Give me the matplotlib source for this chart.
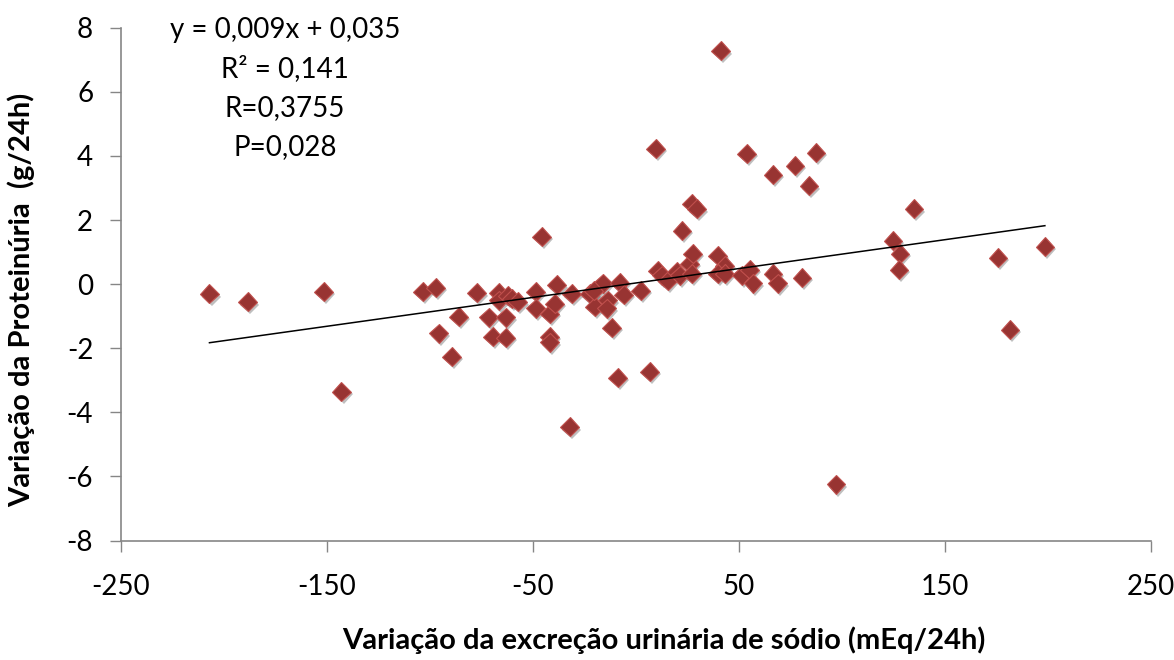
import numpy as np
import matplotlib
matplotlib.use("Agg")
import matplotlib.pyplot as plt
import matplotlib.patheffects as pe

# variação da excreção urinária de sódio (mEq/24h)
sodio = [
    -207.0, -188.5, -151.6, -142.9, -103.5, -97.2, -95.7, -89.4, -86.0, -77.3,
    -71.4, -69.5, -66.6, -66.6, -63.2, -63.2, -62.2, -60.3, -57.3, -48.6,
    -48.6, -45.7, -41.8, -39.4, -38.4, -41.8, -41.8, -32.1, -31.1, -22.4,
    -19.9, -16.0, -13.6, -14.1, -11.7, -8.7, -7.8, -5.8, 2.4, 6.8,
    9.7, 10.7, 12.6, 15.5, 19.9, 22.4, 26.2, 21.4, 27.2, 29.6,
    27.2, 27.7, 39.8, 43.2, 39.8, 43.2, 41.3, 51.5, 55.4, 56.9,
    53.9, 66.6, 69.0, 66.6, 77.3, 87.5, 84.1, 80.7, 124.9, 128.3,
    127.8, 135.1, 175.9, 181.7, 198.7, 97.2, -20.4,
]
# variação da proteinúria (g/24h)
proteinuria = [
    -0.30, -0.55, -0.23, -3.35, -0.23, -0.11, -1.54, -2.26, -1.01, -0.27,
    -1.04, -1.64, -0.27, -0.51, -1.04, -1.67, -0.36, -0.45, -0.55, -0.23,
    -0.76, 1.48, -0.92, -0.61, -0.02, -1.64, -1.82, -4.45, -0.30, -0.30,
    -0.70, 0.02, -0.51, -0.76, -1.36, -2.92, 0.05, -0.33, -0.20, -2.73,
    4.23, 0.42, 0.27, 0.11, 0.39, 1.67, 0.64, 0.27, 2.51, 2.35,
    0.33, 0.95, 0.89, 0.58, 0.33, 0.33, 7.28, 0.27, 0.45, 0.02,
    4.07, 0.33, 0.02, 3.42, 3.70, 4.10, 3.07, 0.20, 1.36, 0.95,
    0.45, 2.35, 0.83, -1.42, 1.17, -6.25, -0.20,
]

slope = 0.009
intercept = 0.035
stats_text = ["y = 0,009x + 0,035", "R² = 0,141", "R=0,3755", "P=0,028"]

x_ticks = [-250, -150, -50, 50, 150, 250]
y_ticks = [-8, -6, -4, -2, 0, 2, 4, 6, 8]

plt.rcParams["font.family"] = ["Lato", "DejaVu Sans"]
plt.rcParams["axes.unicode_minus"] = False

fig = plt.figure(figsize=(11.74, 6.6), dpi=100)
ax = fig.add_axes([0.103, 0.181, 0.877, 0.777])

ax.plot(sodio, proteinuria, linestyle="none", marker="D", markersize=9.5,
        markerfacecolor="#983432", markeredgecolor="#C0504D", markeredgewidth=0.8,
        path_effects=[pe.SimplePatchShadow(offset=(1.5, -2), shadow_rgbFace="#000000", alpha=0.25),
                      pe.Normal()], zorder=3)

# linha de tendência
x_fit = np.array([min(sodio), max(sodio)])
ax.plot(x_fit, slope * x_fit + intercept, color="black", linewidth=1.1, zorder=4)

ax.set_xlim(-250, 250)
ax.set_ylim(-8, 8)
ax.set_xticks(x_ticks)
ax.set_yticks(y_ticks)
ax.tick_params(axis="both", labelsize=20, length=8, width=1, color="#868686",
               direction="out")
ax.tick_params(axis="x", pad=16)
ax.tick_params(axis="y", pad=12)

for side in ["top", "right"]:
    ax.spines[side].set_visible(False)
for side in ["left", "bottom"]:
    ax.spines[side].set_color("#868686")
    ax.spines[side].set_linewidth(1.2)

ax.set_xlabel("Variação da excreção urinária de sódio (mEq/24h)", fontsize=21,
              fontweight="bold")
ax.xaxis.set_label_coords(0.527, -0.194)
ax.xaxis.label.set_verticalalignment("center")
ax.set_ylabel("Variação da Proteinúria  (g/24h)", fontsize=21, fontweight="bold")
ax.yaxis.set_label_coords(-0.083, 0.47)

for i, t in enumerate(stats_text):
    ax.text(285 / 1174, 1 - (30 + i * 39) / 660, t, transform=fig.transFigure,
            ha="center", va="center", fontsize=20)

fig.savefig("out.png", dpi=100)
